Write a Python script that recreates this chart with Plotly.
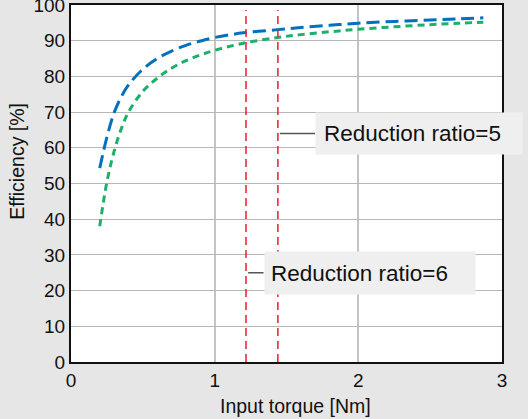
import plotly.graph_objects as go

torque = [0.2, 0.25, 0.3, 0.35, 0.4, 0.5, 0.6, 0.7, 0.8, 0.9, 1.0, 1.2, 1.44, 1.6, 1.8, 2.0, 2.25, 2.5, 2.7, 2.87]
eff_ratio5 = [54.3, 63.0, 69.8, 74.3, 77.6, 82.0, 85.0, 87.1, 88.7, 89.9, 90.9, 92.2, 93.1, 93.7, 94.3, 94.9, 95.4, 95.8, 96.1, 96.4]
eff_ratio6 = [38.0, 50.5, 59.0, 65.3, 70.0, 75.8, 79.5, 82.3, 84.4, 86.0, 87.3, 89.3, 90.9, 91.7, 92.5, 93.2, 93.9, 94.5, 94.9, 95.2]

ref_torques = [1.218, 1.44]
ref_top = 98.6

label_texts = ["Reduction ratio=5", "Reduction ratio=6"]
leader_y = [64.0, 25.0]
x_title = "Input torque [Nm]"
y_title = "Efficiency [%]"

FONT = "Liberation Sans, Arial"

fig = go.Figure()
fig.add_trace(go.Scatter(x=torque, y=eff_ratio5, mode="lines", line=dict(color="#0070c0", width=3, dash="13px,6px", shape="spline"), showlegend=False))
fig.add_trace(go.Scatter(x=torque, y=eff_ratio6, mode="lines", line=dict(color="#1db06a", width=3, dash="7px,5px", shape="spline"), showlegend=False))

for xv in ref_torques:
    fig.add_shape(type="line", xref="x", yref="y", x0=xv, x1=xv, y0=0, y1=ref_top,
                  line=dict(color="#ee1c2e", width=1.5, dash="8px,5px"))

# leader lines
fig.add_shape(type="line", xref="x", yref="y", x0=ref_torques[1] + 0.015, x1=1.70, y0=leader_y[0], y1=leader_y[0],
              line=dict(color="#555555", width=1.5))
fig.add_shape(type="line", xref="x", yref="y", x0=ref_torques[0] + 0.015, x1=1.34, y0=leader_y[1], y1=leader_y[1],
              line=dict(color="#555555", width=1.5))

fig.add_annotation(x=1.698, y=leader_y[0], xref="x", yref="y", xanchor="left", yanchor="middle",
                   text=label_texts[0], showarrow=False, bgcolor="#efefef", width=190, height=25,
                   borderpad=8, align="left", font=dict(family=FONT, size=22.5, color="#111"))
fig.add_annotation(x=1.343, y=leader_y[1], xref="x", yref="y", xanchor="left", yanchor="middle",
                   text=label_texts[1], showarrow=False, bgcolor="#efefef", width=198, height=30,
                   borderpad=6, align="left", font=dict(family=FONT, size=22.5, color="#111"))

# axis titles (placed as in the reference)
fig.add_annotation(x=0.52, y=-0.122, xref="paper", yref="paper", xanchor="center", yanchor="middle",
                   text=x_title, showarrow=False, font=dict(family=FONT, size=19.5, color="#111"))
fig.add_annotation(x=-0.126, y=0.563, xref="paper", yref="paper", xanchor="center", yanchor="middle",
                   text=y_title, textangle=-90, showarrow=False, font=dict(family=FONT, size=19.5, color="#111"))

fig.update_layout(
    width=528, height=419,
    margin=dict(l=71, r=26, t=5, b=57, autoexpand=False),
    paper_bgcolor="#e6e6e6", plot_bgcolor="#ffffff",
    font=dict(family=FONT, size=19, color="#111"),
)
fig.update_xaxes(range=[0, 3], dtick=1, showgrid=True, gridcolor="#c4c4c4", gridwidth=1.5,
                 showline=True, linecolor="#111", linewidth=2, mirror=True, zeroline=False,
                 ticks="", ticklabeloverflow="allow", automargin=False)
fig.update_yaxes(range=[0, 100], dtick=10, showgrid=True, gridcolor="#b8b8b8", gridwidth=1.2,
                 showline=True, linecolor="#111", linewidth=2, mirror=True, zeroline=False,
                 ticks="", ticklabeloverflow="allow", automargin=False)

fig.write_html("out.html")
